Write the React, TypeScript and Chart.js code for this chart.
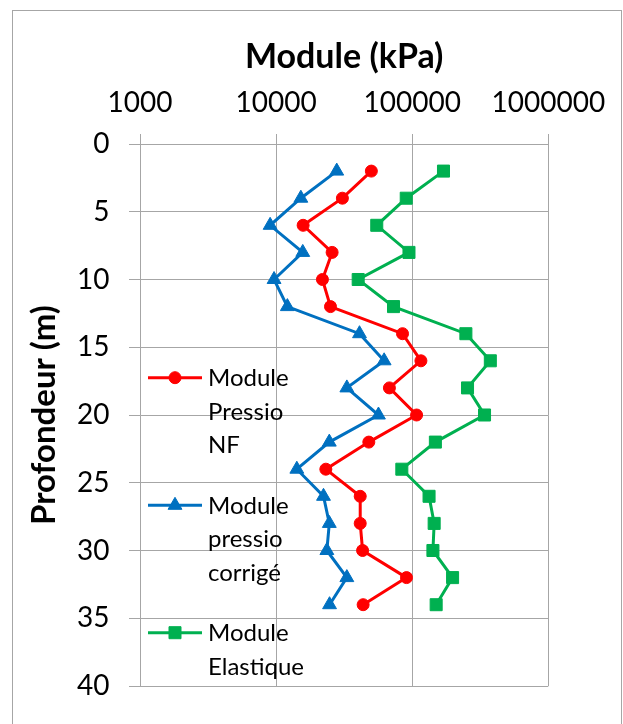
import React, { useEffect, useRef } from 'react';
import { Chart, registerables } from 'chart.js';
Chart.register(...registerables);

const depths = [2, 4, 6, 8, 10, 12, 14, 16, 18, 20, 22, 24, 26, 28, 30, 32, 34];
const pressioNF = [50100, 30700, 15800, 25800, 21900, 25100, 84900, 115900, 68000, 107700, 48000, 23200, 41500, 41500, 43200, 90800, 43600];
const pressioCorrige = [27900, 15200, 9040, 15700, 9660, 12100, 41000, 62200, 33100, 56500, 24600, 14200, 22300, 24600, 23600, 33100, 24700];
const elastique = [169800, 90400, 54900, 94700, 40100, 72900, 248000, 375000, 255000, 340000, 148000, 83900, 133000, 145000, 142000, 198000, 150000];
const xTickValues = [1000, 10000, 100000, 1000000];
const seriesNames = ['Module Pressio NF', 'Module pressio corrigé', 'Module Elastique'];
const legendLines = [['Module', 'Pressio', 'NF'], ['Module', 'pressio', 'corrigé'], ['Module', 'Elastique']];
const xTitle = 'Module (kPa)';
const yTitle = 'Profondeur (m)';

const RED = '#FF0000';
const BLUE = '#0070C0';
const GREEN = '#00B050';
const GRID = '#A6A6A6';
const FONT = 'Lato';

function drawMarker(ctx: CanvasRenderingContext2D, style: string, r: number, x: number, y: number, color: string) {
  ctx.save();
  ctx.fillStyle = color;
  ctx.strokeStyle = color;
  ctx.lineWidth = 1;
  ctx.beginPath();
  if (style === 'circle') {
    ctx.arc(x, y, r, 0, Math.PI * 2);
  } else if (style === 'triangle') {
    ctx.moveTo(x, y - r);
    ctx.lineTo(x + r * Math.sin(Math.PI / 3), y + r * 0.5);
    ctx.lineTo(x - r * Math.sin(Math.PI / 3), y + r * 0.5);
    ctx.closePath();
  } else {
    const s = r * Math.SQRT1_2;
    ctx.rect(x - s, y - s, 2 * s, 2 * s);
  }
  ctx.fill();
  ctx.stroke();
  ctx.restore();
}

const legendPlugin = {
  id: 'wrappedLegend',
  afterDatasetsDraw(chart: any) {
    const ctx: CanvasRenderingContext2D = chart.ctx;
    const area = chart.chartArea;
    const entryOffsets = [233.7, 361.3, 488.7];
    const lineGap = 33.5;
    chart.data.datasets.forEach((ds: any, i: number) => {
      const cy = area.top + entryOffsets[i];
      const x0 = area.left + 8;
      const x1 = area.left + 62;
      ctx.save();
      ctx.strokeStyle = ds.borderColor;
      ctx.lineWidth = 3;
      ctx.beginPath();
      ctx.moveTo(x0, cy);
      ctx.lineTo(x1, cy);
      ctx.stroke();
      ctx.restore();
      drawMarker(ctx, ds.pointStyle, ds.pointRadius, (x0 + x1) / 2, cy, ds.borderColor);
      ctx.save();
      ctx.fillStyle = '#000';
      ctx.font = `24px ${FONT}`;
      ctx.textAlign = 'left';
      ctx.textBaseline = 'alphabetic';
      legendLines[i].forEach((t, j) => {
        ctx.fillText(t, area.left + 68, cy + 8.6 + j * lineGap);
      });
      ctx.restore();
    });
  },
};

export default function App() {
  const ref = useRef<HTMLCanvasElement>(null);
  useEffect(() => {
    const mk = (vals: number[]) => vals.map((v, i) => ({ x: v, y: depths[i] }));
    const ds = (label: string, vals: number[], color: string, style: string, r: number) => ({
      label,
      data: mk(vals),
      borderColor: color,
      backgroundColor: color,
      pointBackgroundColor: color,
      pointBorderColor: color,
      pointStyle: style,
      pointRadius: r,
      pointBorderWidth: 1,
      borderWidth: 3,
      showLine: true,
      tension: 0,
    });
    const chart = new Chart(ref.current!, {
      type: 'scatter',
      data: {
        datasets: [
          ds(seriesNames[0], pressioNF, RED, 'circle', 6),
          ds(seriesNames[1], pressioCorrige, BLUE, 'triangle', 8),
          ds(seriesNames[2], elastique, GREEN, 'rect', 8.5),
        ],
      },
      options: {
        animation: false,
        responsive: false,
        layout: { padding: { left: 0, top: 0, right: 72.7, bottom: 38 } },
        plugins: { legend: { display: false }, tooltip: { enabled: false } },
        scales: {
          x: {
            type: 'logarithmic',
            position: 'top',
            min: 1000,
            max: 1000000,
            afterBuildTicks: (s: any) => {
              s.ticks = xTickValues.map((v) => ({ value: v }));
            },
            afterFit: (s: any) => {
              s.height = 133;
            },
            ticks: {
              callback: (v: any) => String(v),
              font: { family: FONT, size: 28 },
              color: '#000',
              padding: 14.5,
              maxRotation: 0,
              autoSkip: false,
            },
            grid: { color: GRID, tickLength: 10, lineWidth: 1 },
            border: { color: GRID },
            title: {
              display: true,
              text: xTitle,
              font: { family: FONT, size: 34, weight: 'bold' },
              color: '#000',
              padding: { top: 25.5, bottom: 0 },
            },
          },
          y: {
            type: 'linear',
            reverse: true,
            min: 0,
            max: 40,
            afterFit: (s: any) => {
              s.width = 127;
            },
            ticks: {
              stepSize: 5,
              font: { family: FONT, size: 28 },
              color: '#000',
              padding: 19.5,
            },
            grid: { color: GRID, tickLength: 11, lineWidth: 1 },
            border: { color: GRID },
            title: {
              display: true,
              text: yTitle,
              font: { family: FONT, size: 33, weight: 'bold' },
              color: '#000',
              padding: { top: 12, bottom: 0 },
            },
          },
        },
      } as any,
      plugins: [legendPlugin],
    });
    return () => chart.destroy();
  }, []);
  return (
    <div
      style={{
        position: 'absolute',
        left: 12,
        top: 10,
        width: 610,
        height: 714,
        boxSizing: 'border-box',
        borderTop: '1px solid #A6A6A6',
        borderLeft: '1px solid #A6A6A6',
        borderRight: '1px solid #A6A6A6',
      }}
    >
      <canvas ref={ref} width={608} height={713} style={{ display: 'block' }} />
    </div>
  );
}
